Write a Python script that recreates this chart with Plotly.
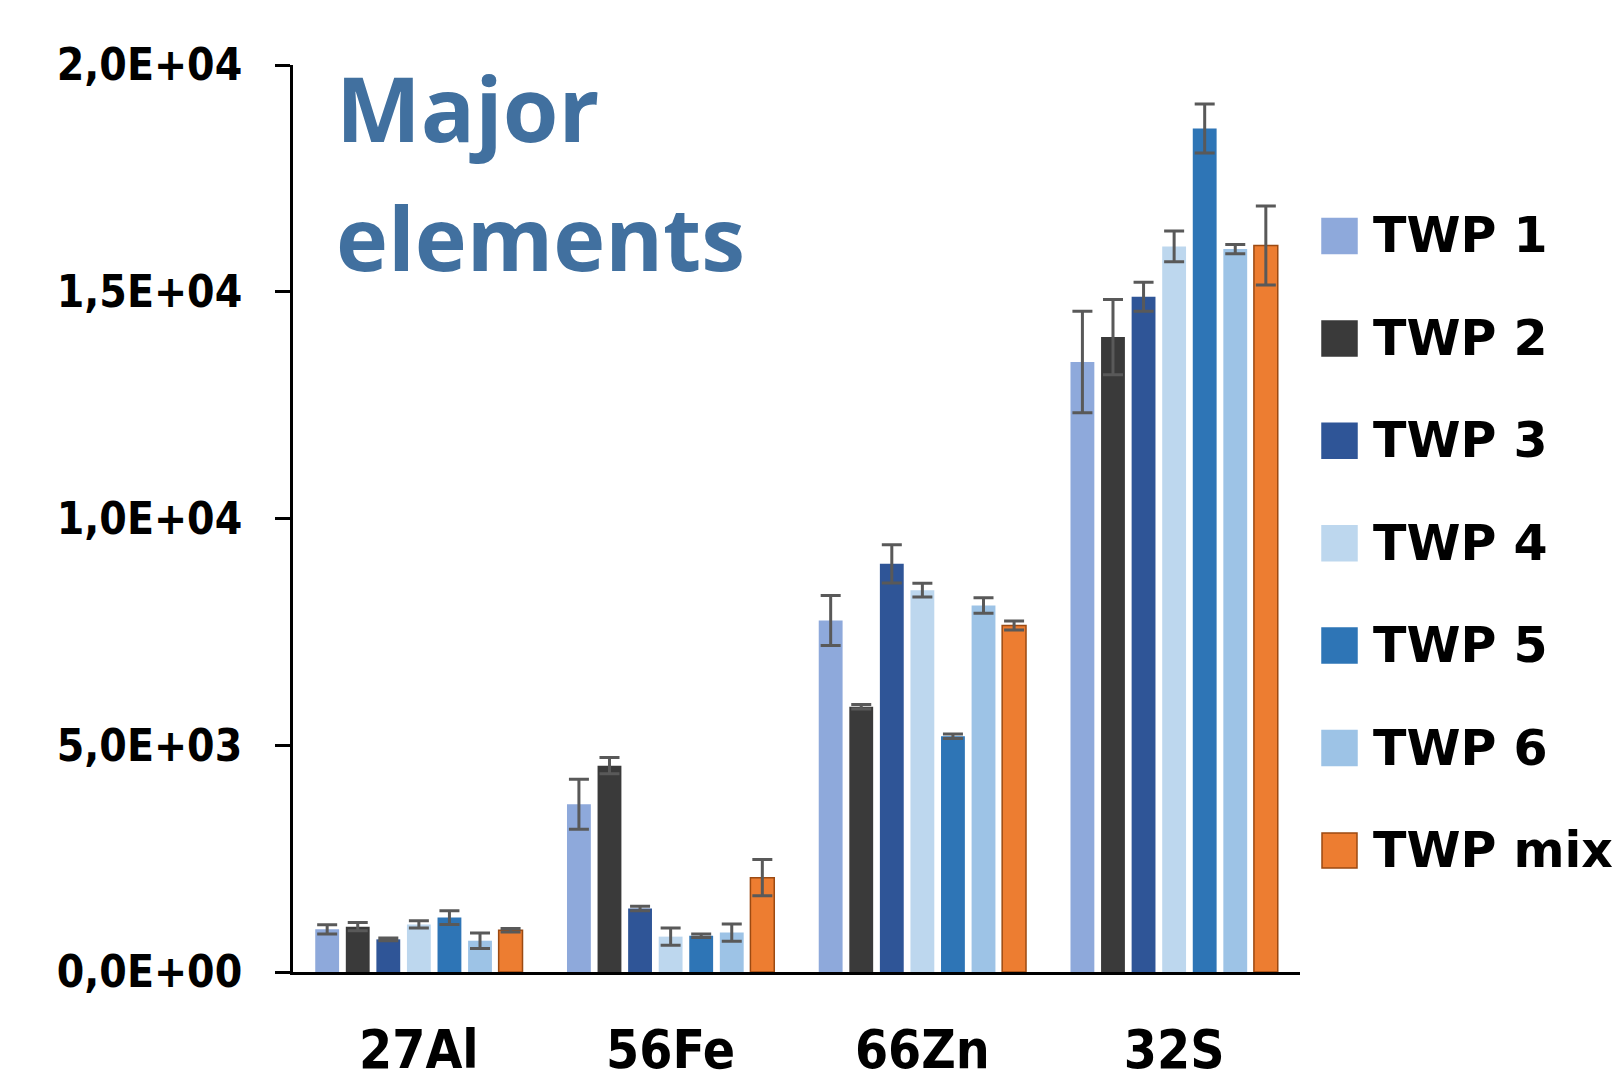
import plotly.graph_objects as go

categories = ["27Al", "56Fe", "66Zn", "32S"]
series_names = ["TWP 1", "TWP 2", "TWP 3", "TWP 4", "TWP 5", "TWP 6", "TWP mix"]

twp1 = [940, 3700, 7750, 13450]
twp2 = [1000, 4550, 5850, 14000]
twp3 = [720, 1400, 9000, 14890]
twp4 = [1050, 780, 8420, 16000]
twp5 = [1200, 800, 5200, 18600]
twp6 = [690, 870, 8080, 15940]
twpmix = [920, 2080, 7640, 16020]

err1 = [100, 550, 550, 1120]
err2 = [90, 180, 50, 830]
err3 = [30, 50, 420, 320]
err4 = [80, 190, 150, 340]
err5 = [150, 40, 50, 540]
err6 = [170, 190, 170, 100]
errmix = [40, 400, 100, 870]

tick_vals = [0, 5000, 10000, 15000, 20000]
tick_text = ["0,0E+00", "5,0E+03", "1,0E+04", "1,5E+04", "2,0E+04"]

values = [twp1, twp2, twp3, twp4, twp5, twp6, twpmix]
errors = [err1, err2, err3, err4, err5, err6, errmix]
colors = ["#8EA9DB", "#3A3A3A", "#2F5597", "#BDD7EE", "#2E75B6", "#9DC3E6", "#ED7D31"]
line_colors = [None] * 6 + ["#9C4A12"]

fig = go.Figure()
for name, vals, errs, col, lc in zip(series_names, values, errors, colors, line_colors):
    fig.add_trace(go.Bar(
        name=name, x=categories, y=vals,
        marker=dict(color=col, line=dict(color=lc or col, width=1.5 if lc else 0)),
        error_y=dict(type="data", array=errs, visible=True, color="#595959",
                     thickness=3, width=10),
    ))

# page body adds an 8px offset; figure sized to fit the 1624x1079 window
OFF = 8
W, H = 1624 - OFF, 1079 - OFF
plot_left, plot_top, plot_right, plot_bottom = 293, 65, 1300, 972  # in window pixels
ml = plot_left - OFF
mt = plot_top - OFF
mr = W - (plot_right - OFF)
mb = H - (plot_bottom - OFF)

tick_family = "DejaVu Sans Condensed, DejaVu Sans"

fig.update_layout(
    width=W, height=H,
    margin=dict(l=ml, r=mr, t=mt, b=mb, autoexpand=False),
    paper_bgcolor="white", plot_bgcolor="white",
    barmode="group", bargap=0.15, bargroupgap=0.22,
    showlegend=False,
    font=dict(family="Open Sans", color="black"),
)
fig.update_yaxes(
    range=[0, 20000], tickvals=tick_vals, ticktext=tick_text,
    showgrid=False, zeroline=False, automargin=False,
    showline=True, linecolor="black", linewidth=3,
    ticks="outside", ticklen=15, tickwidth=3, tickcolor="black",
    tickfont=dict(family=tick_family, size=44, color="black", weight="bold"),
    ticklabelstandoff=24,
)
fig.update_xaxes(
    showgrid=False, showline=True, linecolor="black", linewidth=3, automargin=False,
    ticks="", tickfont=dict(family=tick_family, size=53, color="black", weight="bold"),
    ticklabelstandoff=29,
)

pw = W - ml - mr
ph = H - mt - mb

def px_x(x):
    return (x - OFF - ml) / pw

def px_y(y):
    return 1 - (y - OFF - mt) / ph

title_col = "#41709F"
fig.add_annotation(text="<b>Major</b>", xref="paper", yref="paper",
                   x=px_x(334), y=px_y(107), xanchor="left", yanchor="middle",
                   showarrow=False, font=dict(family="Open Sans", size=90, color=title_col))
fig.add_annotation(text="<b>elements</b>", xref="paper", yref="paper",
                   x=px_x(334), y=px_y(237), xanchor="left", yanchor="middle",
                   showarrow=False, font=dict(family="Open Sans", size=88, color=title_col))

# Legend drawn manually with large swatches
leg_top = 236
leg_step = 102.4
for i, (name, col, lc) in enumerate(zip(series_names, colors, line_colors)):
    cy = leg_top + i * leg_step
    fig.add_shape(type="rect", xref="paper", yref="paper",
                  x0=px_x(1322), x1=px_x(1357), y0=px_y(cy - 17.5), y1=px_y(cy + 17.5),
                  fillcolor=col, line=dict(color=lc or col, width=1.5))
    fig.add_annotation(text="<b>" + name + "</b>", xref="paper", yref="paper",
                       x=px_x(1371), y=px_y(cy), xanchor="left", yanchor="middle",
                       showarrow=False,
                       font=dict(family="DejaVu Sans", size=49, color="black"))

fig.write_html("out.html")
